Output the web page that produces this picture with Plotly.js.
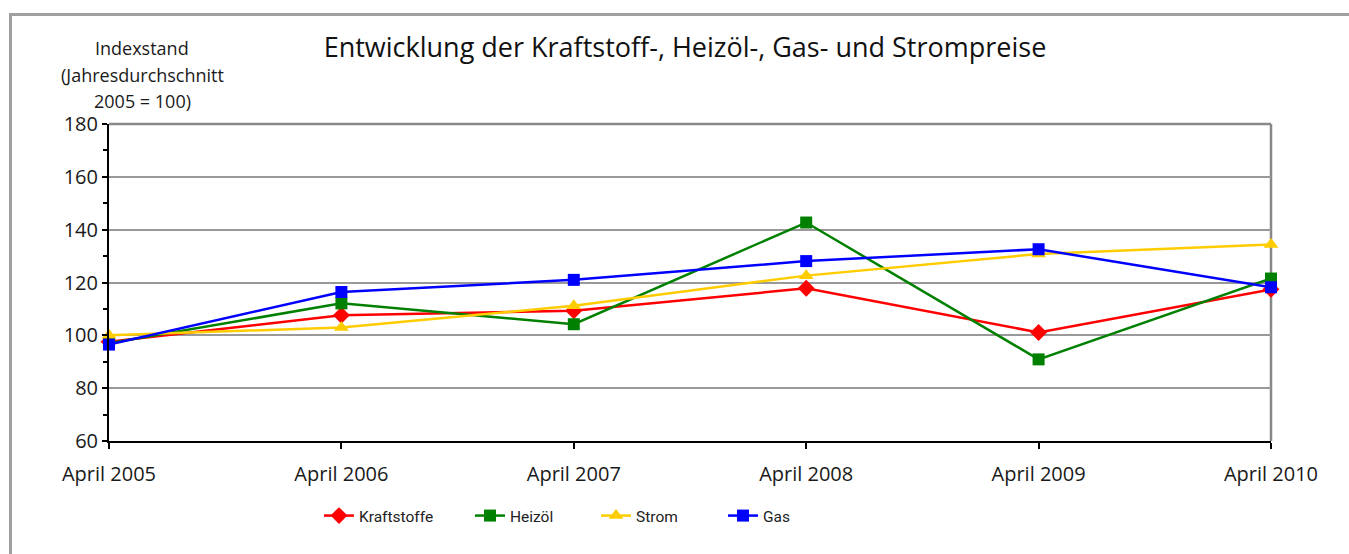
<!DOCTYPE html>
<html>
<head>
<meta charset="utf-8">
<script src="https://cdn.plot.ly/plotly-3.0.1.min.js"></script>
<style>
html,body{margin:0;padding:0;background:#fff;}
#chart{width:1349px;height:554px;}
</style>
</head>
<body>
<div id="chart"></div>
<script>
const categories = ["April 2005","April 2006","April 2007","April 2008","April 2009","April 2010"];
const kraftstoffe = [97.6, 107.6, 109.3, 117.8, 101.1, 117.4];
const heizoel = [97.0, 112.1, 104.2, 142.7, 90.9, 121.5];
const strom = [100.0, 103.0, 111.2, 122.6, 130.8, 134.4];
const gas = [96.5, 116.4, 121.0, 128.1, 132.6, 118.2];
const seriesNames = ["Kraftstoffe","Heizöl","Strom","Gas"];
const yTitleLines = ["Indexstand","(Jahresdurchschnitt","2005 = 100)"];

const FONT = "'Open Sans', 'Noto Sans', sans-serif";
const LFONT = "'Liberation Sans Narrow', 'Roboto', sans-serif";
const W = 1162, H = 317, L = 109, B = 441;
const px2x = p => (p - L) / W;
const py2y = p => (B - p) / H;

const mk = (name, y, color, symbol, size, legend) => ({
  type: 'scatter', mode: 'lines+markers', name: name,
  x: categories, y: y, legend: legend,
  line: {color: color, width: 2.5},
  marker: {color: color, symbol: symbol, size: size},
  cliponaxis: false
});

const data = [
  mk(seriesNames[0], kraftstoffe, '#FF0000', 'diamond', 13, 'legend'),
  mk(seriesNames[1], heizoel, '#008000', 'square', 12, 'legend2'),
  mk(seriesNames[2], strom, '#FFCC00', 'triangle-up', 13, 'legend3'),
  mk(seriesNames[3], gas, '#0000FF', 'square', 12, 'legend4')
];

const legendBase = (xpx) => ({orientation: 'h', x: px2x(xpx), xanchor: 'left', y: py2y(516), yanchor: 'middle',
  font: {family: LFONT, size: 15.5, color: '#222'}, bgcolor: 'rgba(0,0,0,0)'});

const yTitleAnn = yTitleLines.map((t, i) => ({
  xref: 'paper', yref: 'paper', x: px2x(142), y: py2y([48, 74.5, 101][i]), xanchor: 'center', yanchor: 'middle',
  text: t, showarrow: false, font: {family: FONT, size: 18, color: '#1a1a1a'}
}));

const layout = {
  width: 1349, height: 554,
  margin: {l: 109, r: 78, t: 124, b: 113},
  paper_bgcolor: '#fff', plot_bgcolor: '#fff',
  font: {family: FONT, color: '#1a1a1a', size: 20},
  title: {text: 'Entwicklung der Kraftstoff-, Heizöl-, Gas- und Strompreise',
          font: {family: FONT, size: 27, color: '#111'},
          x: px2x(685), xref: 'paper', xanchor: 'center', y: 1 - 48/554, yref: 'container', yanchor: 'middle'},
  showlegend: true,
  legend: legendBase(319),
  legend2: legendBase(470),
  legend3: legendBase(596),
  legend4: legendBase(723),
  xaxis: {type: 'category', range: [0, 5], showgrid: false, zeroline: false,
          showline: true, linecolor: '#000', linewidth: 2,
          ticks: 'outside', ticklen: 6, tickwidth: 2, tickcolor: '#000', ticklabelstandoff: 8,
          tickfont: {family: FONT, size: 20, color: '#1a1a1a'}},
  yaxis: {range: [60, 180], dtick: 20, tick0: 60, showgrid: true, gridcolor: '#999', gridwidth: 2,
          zeroline: false, showline: true, linecolor: '#000', linewidth: 2,
          ticks: 'outside', ticklen: 5, tickwidth: 2, tickcolor: '#000',
          minor: {dtick: 10, ticks: 'outside', ticklen: 4, tickwidth: 2, tickcolor: '#000', showgrid: false},
          tickfont: {family: FONT, size: 20, color: '#1a1a1a'}},
  shapes: [
    {type: 'line', xref: 'paper', yref: 'paper', x0: 0, x1: 1, y0: 1, y1: 1, line: {color: '#888', width: 2.5}, layer: 'below'},
    {type: 'line', xref: 'paper', yref: 'paper', x0: 1, x1: 1, y0: 0, y1: 1, line: {color: '#888', width: 2.5}, layer: 'below'},
    {type: 'rect', xref: 'paper', yref: 'paper', x0: px2x(10.5), x1: 1.2, y0: py2y(14.5), y1: -0.6,
     line: {color: '#a0a0a0', width: 3}, fillcolor: 'rgba(0,0,0,0)'}
  ],
  annotations: yTitleAnn
};

Plotly.newPlot('chart', data, layout, {displayModeBar: false, staticPlot: true});
</script>
</body>
</html>
